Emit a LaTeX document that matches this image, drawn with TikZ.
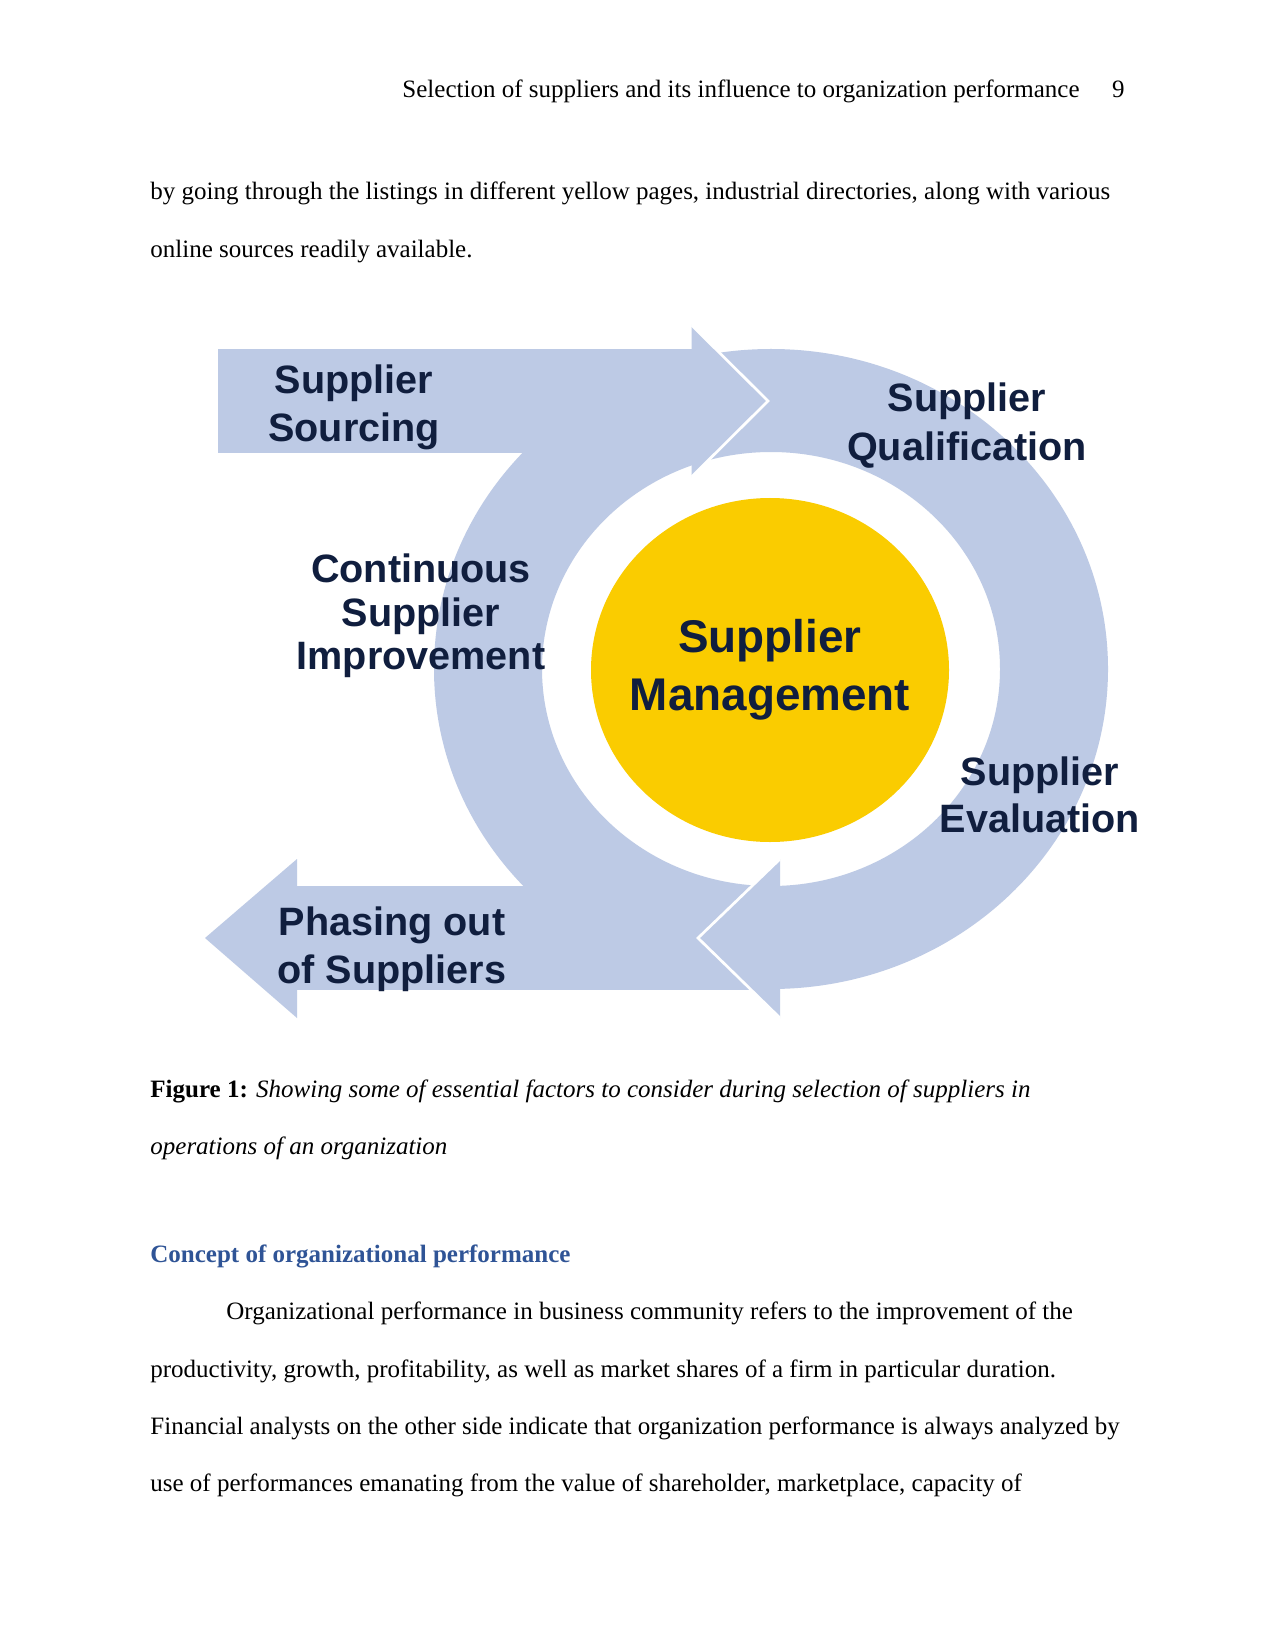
\documentclass[tikz,border=0pt]{standalone}
\usepackage{fontspec}
\setmainfont{Liberation Serif}
\newfontfamily\lsans{Liberation Sans}
\definecolor{bandblue}{RGB}{189,202,229}
\definecolor{sunyellow}{RGB}{250,204,0}
\definecolor{navytext}{RGB}{16,30,62}
\definecolor{headblue}{RGB}{47,84,150}
\tikzset{
  band/.style={fill=bandblue},
  cutline/.style={draw=white, line width=1.3pt, line join=miter},
  lbl/.style={anchor=base, inner sep=0pt, text=navytext, font=\lsans\bfseries\fontsize{19}{23}\selectfont},
  biglbl/.style={anchor=base, inner sep=0pt, text=navytext, font=\lsans\bfseries\fontsize{22}{27}\selectfont},
  bodyline/.style={anchor=base west, inner sep=0pt, font=\fontsize{12}{14}\selectfont},
}
\begin{document}
\begin{tikzpicture}[x=0.48pt,y=-0.48pt]
\fill[white] (0,0) rectangle (1275,1650);
\useasboundingbox (0,0) rectangle (1275,1650);

% header and text above
\node[bodyline, anchor=base east] (head) at (1080,98) {Selection of suppliers and its influence to organization performance};
\node[bodyline, anchor=base east] (pnum) at (1125,98) {9};
\node[bodyline] (t1) at (150,200) {by going through the listings in different yellow pages, industrial directories, along with various};
\node[bodyline] (t2) at (150,257.5) {online sources readily available.};

% ring
\fill[band, even odd rule] (771,669) ellipse [x radius=161.76pt, y radius=153.6pt]
                           (771,669) ellipse [x radius=109.92pt, y radius=104.16pt];
% top arrow
\fill[band] (218,349) rectangle (700,453);
\fill[band] (691.5,325) -- (768,401) -- (691.5,477) -- cycle;
\draw[cutline] (691.5,325) -- (768,401) -- (691.5,477);
% bottom arrow (end of ring)
\fill[band] (297,886) rectangle (780,990);
\fill[band] (780,859) -- (698,938) -- (780,1018) -- cycle;
\draw[cutline] (780,859) -- (698,938) -- (780,1018);
% left arrow head
\fill[band] (297,859) -- (205,938) -- (297,1018) -- cycle;
% centre
\fill[sunyellow] (770,670) ellipse [x radius=85.92pt, y radius=82.56pt];

% labels
\node[lbl] (srcA) at (354,394) {Supplier};
\node[lbl] (srcB) at (354,442) {Sourcing};
\node[lbl] (qualA) at (967,412) {Supplier};
\node[lbl] (qualB) at (967,461) {Qualification};
\node[lbl] (contA) at (421,582) {Continuous};
\node[lbl] (contB) at (421,626) {Supplier};
\node[lbl] (contC) at (421,669) {Improvement};
\node[biglbl] (mgmtA) at (770,652) {Supplier};
\node[biglbl] (mgmtB) at (770,710) {Management};
\node[lbl] (evalA) at (1040,785) {Supplier};
\node[lbl] (evalB) at (1040,832) {Evaluation};
\node[lbl] (phaseA) at (392,935) {Phasing out};
\node[lbl] (phaseB) at (392,983) {of Suppliers};

% caption and following text
\node[bodyline] (cap1) at (150,1097) {\textbf{Figure 1:} \textit{Showing some of essential factors to consider during selection of suppliers in}};
\node[bodyline] (cap2) at (150,1154.5) {\textit{operations of an organization}};
\node[bodyline, text=headblue, font=\bfseries\fontsize{12}{14}\selectfont] (sec) at (150,1262) {Concept of organizational performance};
\node[bodyline] (p1) at (226,1319.5) {Organizational performance in business community refers to the improvement of the};
\node[bodyline] (p2) at (150,1377) {productivity, growth, profitability, as well as market shares of a firm in particular duration.};
\node[bodyline] (p3) at (150,1434) {Financial analysts on the other side indicate that organization performance is always analyzed by};
\node[bodyline] (p4) at (150,1491.5) {use of performances emanating from the value of shareholder, marketplace, capacity of};
\end{tikzpicture}
\end{document}
